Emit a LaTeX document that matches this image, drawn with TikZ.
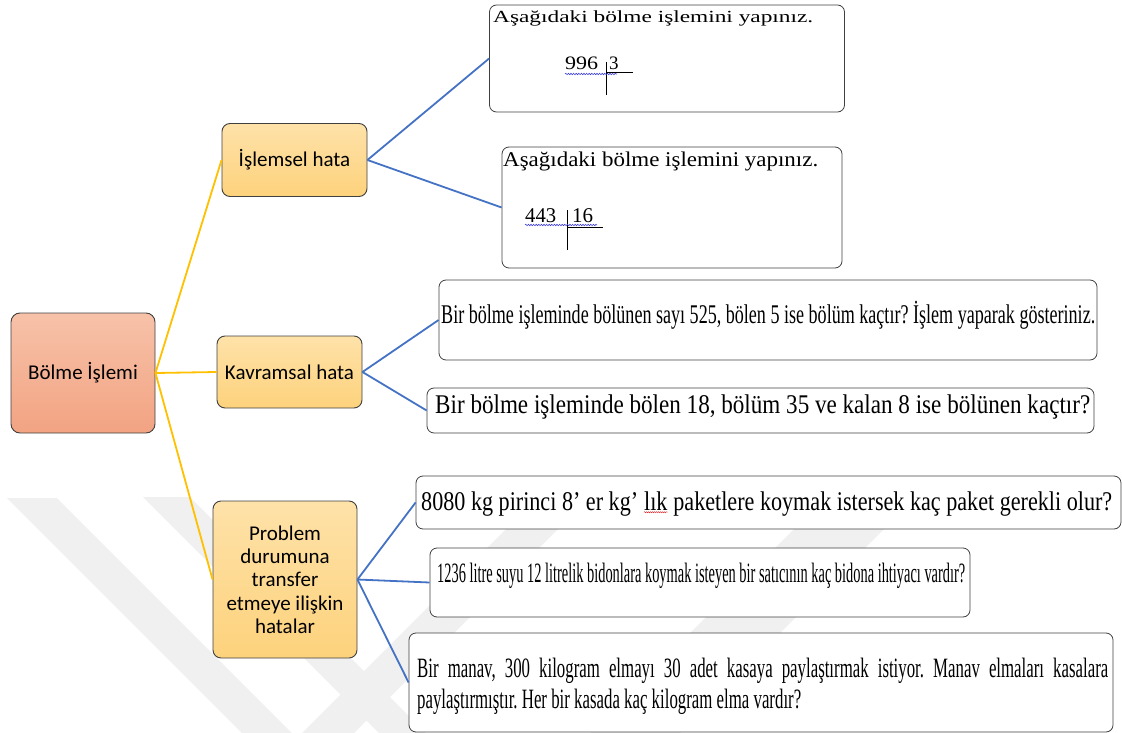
\documentclass[tikz,border=0pt]{standalone}
\usepackage{fontspec}
\setmainfont{Liberation Serif}
\newfontfamily\calibri{Carlito}
\usetikzlibrary{decorations.pathmorphing}
\frenchspacing

\definecolor{rootTop}{HTML}{F7C2A9}
\definecolor{rootBot}{HTML}{F2A382}
\definecolor{catTop}{HTML}{FEE2A9}
\definecolor{catBot}{HTML}{FDD27C}
\definecolor{edgeGray}{HTML}{404040}
\definecolor{yell}{HTML}{FFC000}
\definecolor{blu}{HTML}{4472C4}
\definecolor{wmGray}{HTML}{F0F0F0}
\definecolor{spellBlue}{HTML}{3B3BE0}
\definecolor{spellRed}{HTML}{E03030}

% stretch a line of text horizontally to a given width, keeping its height
\newcommand{\fitw}[2]{\resizebox{#1}{\height}{#2}}
% red wavy spelling underline under a word
\newcommand{\redwave}[1]{\tikz[baseline=(w.base)]{\node[inner sep=0pt] (w) {#1};
  \draw[decorate, decoration={snake, amplitude=0.6pt, segment length=2.4pt}, line width=0.5pt, spellRed]
    ([yshift=-2.2pt]w.base west) -- ([yshift=-2.2pt]w.base east);}}
\newlength\tmpw

\begin{document}
% horizontal squeeze for the two-line question, taken from its second line
\settowidth\tmpw{\fontsize{28}{31}\selectfont paylaştırmıştır. Her bir kasada kaç kilogram elma vardır?}%
\pgfmathsetmacro\sxseven{384/\tmpw}%
\pgfmathsetmacro\wseven{691/\sxseven}%
\begin{tikzpicture}[x=1pt,y=-1pt,
  rootbox/.style={draw=edgeGray, line width=0.9pt, rounded corners=9pt,
    top color=rootTop, bottom color=rootBot, inner sep=0pt,
    font=\calibri\fontsize{21}{23.3}\selectfont, align=center},
  catbox/.style={draw=edgeGray, line width=0.9pt, rounded corners=8pt,
    top color=catTop, bottom color=catBot, inner sep=0pt,
    font=\calibri\fontsize{21}{23.3}\selectfont, align=center},
  qbox/.style={draw=edgeGray, line width=0.8pt, rounded corners=7pt,
    fill=white, inner sep=0pt},
  txt/.style={inner sep=0pt, anchor=base west},
  yline/.style={draw=yell, line width=1.8pt},
  bline/.style={draw=blu, line width=1.8pt},
  divline/.style={draw=black, line width=0.8pt},
  wave/.style={decorate, decoration={snake, amplitude=0.7pt, segment length=2.6pt}, line width=0.6pt},
  wm/.style={fill=wmGray}
]
\useasboundingbox (0,0) rectangle (1122,733);

% faint background watermark bands
\fill[wm] (7,498) -- (57,498) -- (292,733) -- (242,733) -- cycle;
\fill[wm] (143,497) -- (190,497) -- (426,733) -- (379,733) -- cycle;
\fill[wm] (302,733) -- (354,733) -- (590,497) -- (538,497) -- cycle;
\fill[wm] (590,733) -- (680,733) -- (916,497) -- (826,497) -- cycle;

% main topic and the three error categories
\node[rootbox, minimum width=144pt, minimum height=120pt] (root) at (83,373) {Bölme İşlemi};
\node[catbox, minimum width=145pt, minimum height=73pt] (islem) at (294.5,160) {İşlemsel hata};
\node[catbox, minimum width=145pt, minimum height=72pt] (kavram) at (289.5,372) {Kavramsal hata};
\node[catbox, minimum width=144pt, minimum height=157pt] (problem) at (285,579.5)
  {Problem\\durumuna\\transfer\\etmeye ilişkin\\hatalar};

% question boxes
\node[qbox, minimum width=355pt, minimum height=107pt] (q1) at (667,58.5) {};
\node[qbox, minimum width=340pt, minimum height=121pt] (q2) at (672,207.5) {};
\node[qbox, minimum width=658pt, minimum height=80pt] (q3) at (768,320) {};
\node[qbox, minimum width=667pt, minimum height=45pt] (q4) at (760.5,410.5) {};
\node[qbox, minimum width=705pt, minimum height=53pt] (q5) at (768.5,502.5) {};
\node[qbox, minimum width=540pt, minimum height=69pt] (q6) at (700,582.5) {};
\node[qbox, minimum width=704pt, minimum height=99pt] (q7) at (761,682.5) {};

% question texts
\node[txt] (q3t) at (441,323) {\fontsize{27}{30}\selectfont\fitw{654pt}{Bir bölme işleminde bölünen sayı 525, bölen 5 ise bölüm kaçtır? İşlem yaparak gösteriniz.}};
\node[txt] (q4t) at (435,413) {\fontsize{27}{30}\selectfont\fitw{655pt}{Bir bölme işleminde bölen 18, bölüm 35 ve kalan 8 ise bölünen kaçtır?}};
\node[txt] (q5t) at (421,510) {\fontsize{27}{30}\selectfont\fitw{691pt}{8080 kg pirinci 8’ er kg’ \redwave{lık} paketlere koymak istersek kaç paket gerekli olur?}};
\node[txt] (q6t) at (437,582) {\fontsize{28}{31}\selectfont\fitw{528pt}{1236 litre suyu 12 litrelik bidonlara koymak isteyen bir satıcının kaç bidona ihtiyacı vardır?}};
\node[txt] (q7a) at (417,677) {\fontsize{28}{31}\selectfont\scalebox{\sxseven}[1]{\makebox[\wseven pt][s]{Bir manav, 300 kilogram elmayı 30 adet kasaya paylaştırmak istiyor. Manav elmaları kasalara}}};
\node[txt] (q7b) at (417,708) {\fontsize{28}{31}\selectfont\scalebox{\sxseven}[1]{paylaştırmıştır. Her bir kasada kaç kilogram elma vardır?}};

% contents of the two long-division questions
\node[txt] (q1h) at (493,23) {\fontsize{17}{20}\selectfont\fitw{320pt}{Aşağıdaki bölme işlemini yapınız.}};
\node[txt] (q1a) at (565,70) {\fontsize{19}{22}\selectfont\fitw{33pt}{996}};
\node[txt] (q1b) at (609,70) {\fontsize{19}{22}\selectfont 3};
\draw[divline] (606,62) -- (606,95);
\draw[divline] (606,72) -- (633,72);
\draw[wave, spellBlue] (565,74) -- (617,74);

\node[txt] (q2h) at (503,167) {\fontsize{21}{24}\selectfont\fitw{315pt}{Aşağıdaki bölme işlemini yapınız.}};
\node[txt] (q2a) at (525,222) {\fontsize{21}{24}\selectfont\fitw{31pt}{443}};
\node[txt] (q2b) at (572,222) {\fontsize{21}{24}\selectfont 16};
\draw[divline] (567,210) -- (567,250);
\draw[divline] (567,227) -- (603,227);
\draw[wave, spellBlue] (525,225) -- (597,225);

% connectors: topic to categories
\draw[yline] (root.east) -- (islem.west);
\draw[yline] (root.east) -- (kavram.west);
\draw[yline] (root.east) -- (problem.west);

% connectors: categories to questions
\draw[bline] (islem.east) -- (q1.west);
\draw[bline] (islem.east) -- (q2.west);
\draw[bline] (kavram.east) -- (q3.west);
\draw[bline] (kavram.east) -- (q4.west);
\draw[bline] (problem.east) -- (q5.west);
\draw[bline] (problem.east) -- (q6.west);
\draw[bline] (problem.east) -- (q7.west);
\end{tikzpicture}
\end{document}
